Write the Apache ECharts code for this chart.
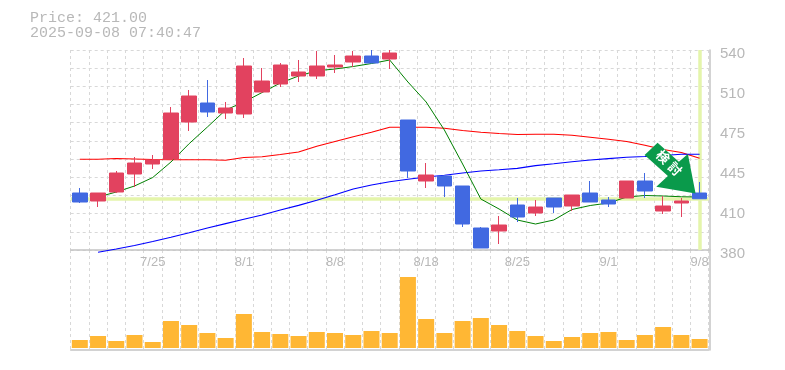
<!DOCTYPE html>
<html>
<head>
<meta charset="utf-8">
<style>
  html, body { margin: 0; padding: 0; background: #fff; }
  #chart { width: 785px; height: 370px; }
</style>
<script src="https://cdn.jsdelivr.net/npm/echarts@6/dist/echarts.min.js"></script>
</head>
<body>
<div id="chart"></div>
<script>
const dates = ["7/21","7/22","7/23","7/24","7/25","7/28","7/29","7/30","7/31","8/1","8/4","8/5","8/6","8/7","8/8","8/12","8/13","8/14","8/15","8/18","8/19","8/20","8/21","8/22","8/25","8/26","8/27","8/28","8/29","9/1","9/2","9/3","9/4","9/5","9/8"];
// open, close, low, high
const candles = [
  [425.6,418.4,417.6,429.6],[419.2,425.6,414.4,425.6],[426.4,441.6,425.6,443.2],[440.8,449.6,430.4,454.4],[448.8,452,444.8,456],
  [452.8,489.6,452,494.4],[482.4,503.2,475.2,508],[497.6,490.4,486.4,516],[489.6,493.6,484.8,498.4],[488.8,527.2,485.6,533.6],
  [506.4,515.2,505.6,525.6],[512.8,528,510.4,529.6],[519.2,522.4,514.4,532],[519.2,527.2,516.8,539.2],[526.4,528,521.6,536],
  [530.4,535.2,526.4,539.2],[535.2,529.6,529.6,540],[532.8,537.6,524.8,540],[484,443.2,437.6,484],[435.2,440,429.6,449.6],
  [439.2,431.2,422.4,440],[431.2,400.8,398.4,431.2],[397.6,381.6,381.6,398.4],[395.2,400,384.8,407.2],[416,406.4,402.4,421.6],
  [409.6,414.4,407.2,420],[421.6,414.4,409.6,421.6],[415.2,424,411.2,424],[425.6,418.4,418.4,435.2],[420,416.8,414.4,422.4],
  [421.6,435.2,421.6,435.2],[435.2,427.2,421.6,441.6],[411.2,415.2,408.8,423.2],[417.6,419.2,406.4,421.6],[425.6,421,421,434.4]
];
const maLong = [452.6,452.6,453.2,452.8,452.4,452.2,452.2,452.2,451.8,454,454.6,456.4,458.4,463,466.8,470.6,474.2,478.2,478.2,478.2,477.4,475.6,474.2,473.2,472.4,472.6,472.6,471.8,470.2,468.6,466.8,463.8,460.4,458,453.4];
const maBlue = [null,378.2,380.8,383.6,386.8,390.2,393.8,397.6,401.1,404.6,408,412,415.7,419.8,424.2,428.8,432,434.6,436.6,438.4,439.8,441.6,443.2,444.2,445.3,447.5,449,450.6,452,453.1,454.2,454.8,455.6,456.6,456.6];
const maShort = [null,422.4,426.4,431.2,438,450.4,465.1,478.4,492,498.4,506,513.6,519.2,523.4,524.8,526.8,529.2,532,514.4,498.4,476,448.8,420.8,412.8,404,400.8,404,412.4,415.6,417.6,422.4,423.6,423.2,422.6,422.4];
const volumes = [8,12,7,13,6,27,23,15,10,34,16,14,12,16,15,13,17,15,71,29,15,27,30,23,17,12,7,11,15,16,8,13,21,13,9];
const priceLabels = { 540: "540", 508: "510", 476: "475", 444: "445", 412: "410", 380: "380" };
const currentPrice = 421;

const chart = echarts.init(document.getElementById("chart"), null, { renderer: "canvas" });
const textGray = "#b8b8b8";
const gridDash = { color: "#d8d8d8", type: [3, 3], width: 1 };
const xLabelEvery = 5;

const arrowPath = "path://M645 156.3L658 144L679.3 163L688.3 155.3L696 194.7L656.7 188L668.3 177.3Z";

chart.setOption({
  backgroundColor: "#fff",
  animation: false,
  graphic: [
    { type: "text", left: 30, top: 11, style: { text: "Price: " + currentPrice.toFixed(2), font: "15px 'Liberation Mono'", fill: textGray } },
    { type: "text", left: 30, top: 26, style: { text: "2025-09-08 07:40:47", font: "15px 'Liberation Mono'", fill: textGray } }
  ],
  grid: [
    { left: 70.7, width: 638, top: 50, height: 200 },
    { left: 70.7, width: 638, top: 250, height: 100 }
  ],
  xAxis: [
    {
      type: "category", data: dates, gridIndex: 0,
      axisTick: { show: false },
      axisLine: { onZero: false, lineStyle: { color: "#c4c4c4", width: 1.5 } },
      axisLabel: {
        interval: (i) => i % xLabelEvery === xLabelEvery - 1,
        color: textGray, fontFamily: "Liberation Sans", fontSize: 13, margin: 6
      },
      splitLine: { show: true, interval: 0, lineStyle: gridDash }
    },
    {
      type: "category", data: dates, gridIndex: 1,
      axisTick: { show: false },
      axisLabel: { show: false },
      axisLine: { onZero: false, lineStyle: { color: "#c4c4c4", width: 1.5 } },
      splitLine: { show: true, interval: 0, lineStyle: gridDash }
    }
  ],
  yAxis: [
    {
      type: "value", gridIndex: 0, position: "right", min: 380, max: 540, interval: 32, offset: 1.3,
      axisLine: { show: true, lineStyle: { color: "#c4c4c4", width: 1.5 } },
      axisTick: { show: false },
      splitLine: { show: false },
      axisLabel: {
        color: textGray, fontFamily: "Liberation Sans", fontSize: 15, margin: 10,
        verticalAlign: "top", lineHeight: 8,
        formatter: (v) => priceLabels[v] || ""
      }
    },
    {
      type: "value", gridIndex: 0, min: 0, max: 11, interval: 1, position: "left",
      axisLine: { show: false }, axisTick: { show: false }, axisLabel: { show: false },
      splitLine: { show: true, lineStyle: gridDash }
    },
    {
      type: "value", gridIndex: 1, position: "right", min: -2, max: 98, offset: 1.3,
      axisLine: { show: true, lineStyle: { color: "#c4c4c4", width: 1.5 } },
      axisTick: { show: false }, axisLabel: { show: false }, splitLine: { show: false }
    }
  ],
  series: [
    {
      name: "現在値", type: "line", xAxisIndex: 0, yAxisIndex: 0, data: [], z: 2, silent: true,
      markLine: {
        silent: true, symbol: "none", z: 2, animation: false, label: { show: false },
        lineStyle: { color: "#e4f5ab", width: 3.5, type: "solid" },
        data: [{ yAxis: currentPrice }, { xAxis: dates.length - 1 }]
      }
    },
    { name: "MA75", type: "line", data: maLong, showSymbol: false, symbol: "none", clip: false, z: 3, lineStyle: { color: "#ff0000", width: 1.2 } },
    { name: "MA25", type: "line", data: maBlue, showSymbol: false, symbol: "none", clip: false, z: 3, lineStyle: { color: "#0000ff", width: 1.2 } },
    { name: "MA5", type: "line", data: maShort, showSymbol: false, symbol: "none", clip: false, z: 3, lineStyle: { color: "#008000", width: 1 } },
    {
      name: "price", type: "candlestick", data: candles, barWidth: 15, clip: false, z: 4,
      itemStyle: { color: "#e2425f", borderColor: "#e2425f", color0: "#4169e1", borderColor0: "#4169e1", borderWidth: 1 },
      markPoint: {
        z: 6, silent: true, animation: false,
        data: [{
          coord: [dates.length - 1, currentPrice],
          symbol: arrowPath, symbolSize: [51, 50.7], symbolOffset: [-29.5, -30.6],
          itemStyle: { color: "#0a9a4b" },
          label: {
            show: true, position: "inside", rotate: -45, offset: [-4.5, -3],
            formatter: "{a|検}{b|討}",
            rich: {
              a: { color: "#fff", fontFamily: "Noto Sans CJK JP", fontWeight: "bold", fontSize: 13 },
              b: { color: "#fff", fontFamily: "Noto Sans CJK JP", fontWeight: "bold", fontSize: 13, padding: [0, 0, 0, 4] }
            }
          }
        }]
      }
    },
    { name: "volume", type: "bar", xAxisIndex: 1, yAxisIndex: 2, data: volumes, barWidth: 16, itemStyle: { color: "#ffb734" } }
  ]
});
</script>
</body>
</html>
